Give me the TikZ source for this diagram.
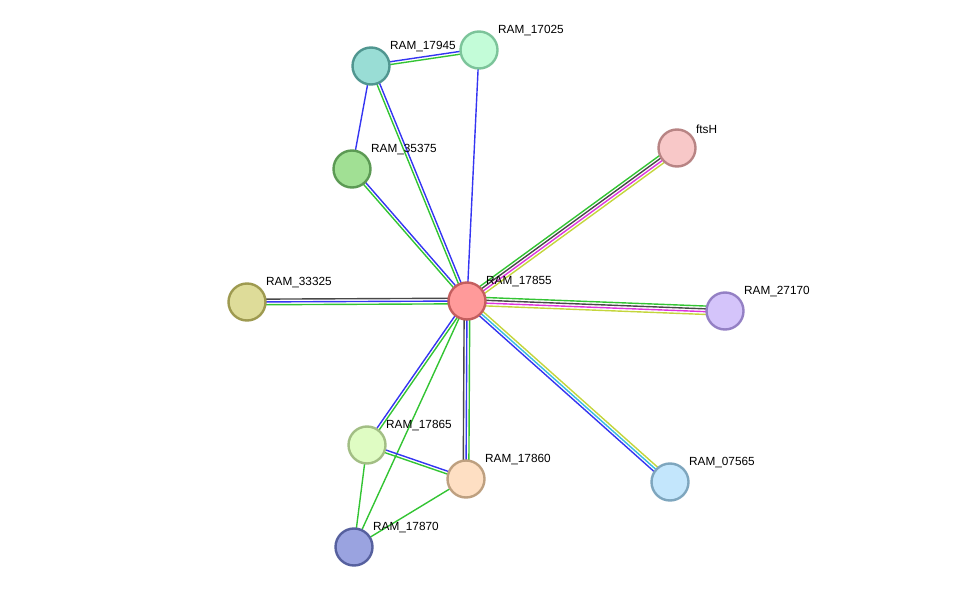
\documentclass[tikz,border=0pt]{standalone}
\usepackage{fontspec}
\setsansfont{Liberation Sans}
\usepackage{tikz}
\usetikzlibrary{positioning, calc}

\pgfdeclarelayer{edges}
\pgfsetlayers{edges,main}

% STRING evidence colours
\definecolor{evgreen}{HTML}{33C433}
\definecolor{evblue}{HTML}{3535F2}
\definecolor{evgray}{HTML}{484848}
\definecolor{evmagenta}{HTML}{DD35DD}
\definecolor{evcyan}{HTML}{38BCDE}
\definecolor{evyellow}{HTML}{C4D53C}

% one line per evidence channel, side by side
\newcommand{\ppiedge}[3]{%
  \foreach \c [count=\n] in {#3} {\global\let\nlines\n}%
  \foreach \c [count=\n] in {#3} {%
    \pgfmathsetmacro{\off}{(\n-(\nlines+1)/2)*2.8}%
    \draw[evidence, color=\c] ($(#1.center)!\off pt!90:(#2.center)$) -- ($(#2.center)!\off pt!-90:(#1.center)$);
  }%
}

\begin{document}
\begin{tikzpicture}[
    x=1pt, y=-1pt,
    % Node Styles
    prot/.style={circle, draw, line width=2.4pt, minimum size=37pt, inner sep=0pt},
    lbl/.style={font=\sffamily\fontsize{11.8}{12}\selectfont, inner sep=0pt, xshift=5pt, yshift=0pt},
    evidence/.style={line width=1.4pt}
]
\useasboundingbox (0,0) rectangle (976,593);

% --- 1. Hub ---
\node[prot, fill={rgb,255:red,255;green,154;blue,154}, draw={rgb,255:red,196;green,94;blue,94}, label={[lbl]above right:RAM\_17855}] (r17855) at (467,301) {};

% --- 2. Upper cluster ---
\node[prot, fill={rgb,255:red,153;green,221;blue,213}, draw={rgb,255:red,80;green,150;blue,144}, label={[lbl]above right:RAM\_17945}] (r17945) at (371,66) {};
\node[prot, fill={rgb,255:red,195;green,252;blue,216}, draw={rgb,255:red,124;green,196;blue,154}, label={[lbl]above right:RAM\_17025}] (r17025) at (479,50) {};
\node[prot, fill={rgb,255:red,161;green,224;blue,148}, draw={rgb,255:red,92;green,154;blue,84}, label={[lbl]above right:RAM\_35375}] (r35375) at (352,169) {};

% --- 3. Right side ---
\node[prot, fill={rgb,255:red,248;green,200;blue,200}, draw={rgb,255:red,184;green,132;blue,132}, label={[lbl]above right:ftsH}] (ftsH) at (677,148) {};
\node[prot, fill={rgb,255:red,212;green,196;blue,250}, draw={rgb,255:red,148;green,128;blue,196}, label={[lbl]above right:RAM\_27170}] (r27170) at (725,311) {};
\node[prot, fill={rgb,255:red,195;green,230;blue,252}, draw={rgb,255:red,126;green,166;blue,190}, label={[lbl]above right:RAM\_07565}] (r07565) at (670,482) {};

% --- 4. Left side ---
\node[prot, fill={rgb,255:red,222;green,220;blue,153}, draw={rgb,255:red,158;green,154;blue,80}, label={[lbl]above right:RAM\_33325}] (r33325) at (247,302) {};

% --- 5. Lower cluster ---
\node[prot, fill={rgb,255:red,223;green,252;blue,195}, draw={rgb,255:red,162;green,190;blue,132}, label={[lbl]above right:RAM\_17865}] (r17865) at (367,445) {};
\node[prot, fill={rgb,255:red,254;green,223;blue,195}, draw={rgb,255:red,190;green,160;blue,128}, label={[lbl]above right:RAM\_17860}] (r17860) at (466,479) {};
\node[prot, fill={rgb,255:red,154;green,163;blue,224}, draw={rgb,255:red,86;green,96;blue,158}, label={[lbl]above right:RAM\_17870}] (r17870) at (354,547) {};

% --- Edges ---
\begin{pgfonlayer}{edges}
% upper cluster
\ppiedge{r17945}{r17025}{evgreen, evblue}
\ppiedge{r17945}{r35375}{evblue}
\ppiedge{r17855}{r17945}{evblue, evgreen}
\ppiedge{r17855}{r17025}{evblue}
\ppiedge{r35375}{r17855}{evgreen, evblue}

% right side
\ppiedge{r17855}{ftsH}{evyellow, evmagenta, evgray, evgreen}
\ppiedge{r17855}{r27170}{evyellow, evmagenta, evgray, evgreen}
\ppiedge{r17855}{r07565}{evblue, evcyan, evyellow}

% left side
\ppiedge{r33325}{r17855}{evgreen, evblue, evgray}

% lower cluster
\ppiedge{r17855}{r17865}{evblue, evgreen}
\ppiedge{r17855}{r17870}{evgreen}
\ppiedge{r17855}{r17860}{evgray, evblue, evgreen}
\ppiedge{r17865}{r17860}{evgreen, evblue}
\ppiedge{r17865}{r17870}{evgreen}
\ppiedge{r17860}{r17870}{evgreen}
\end{pgfonlayer}

\end{tikzpicture}
\end{document}
